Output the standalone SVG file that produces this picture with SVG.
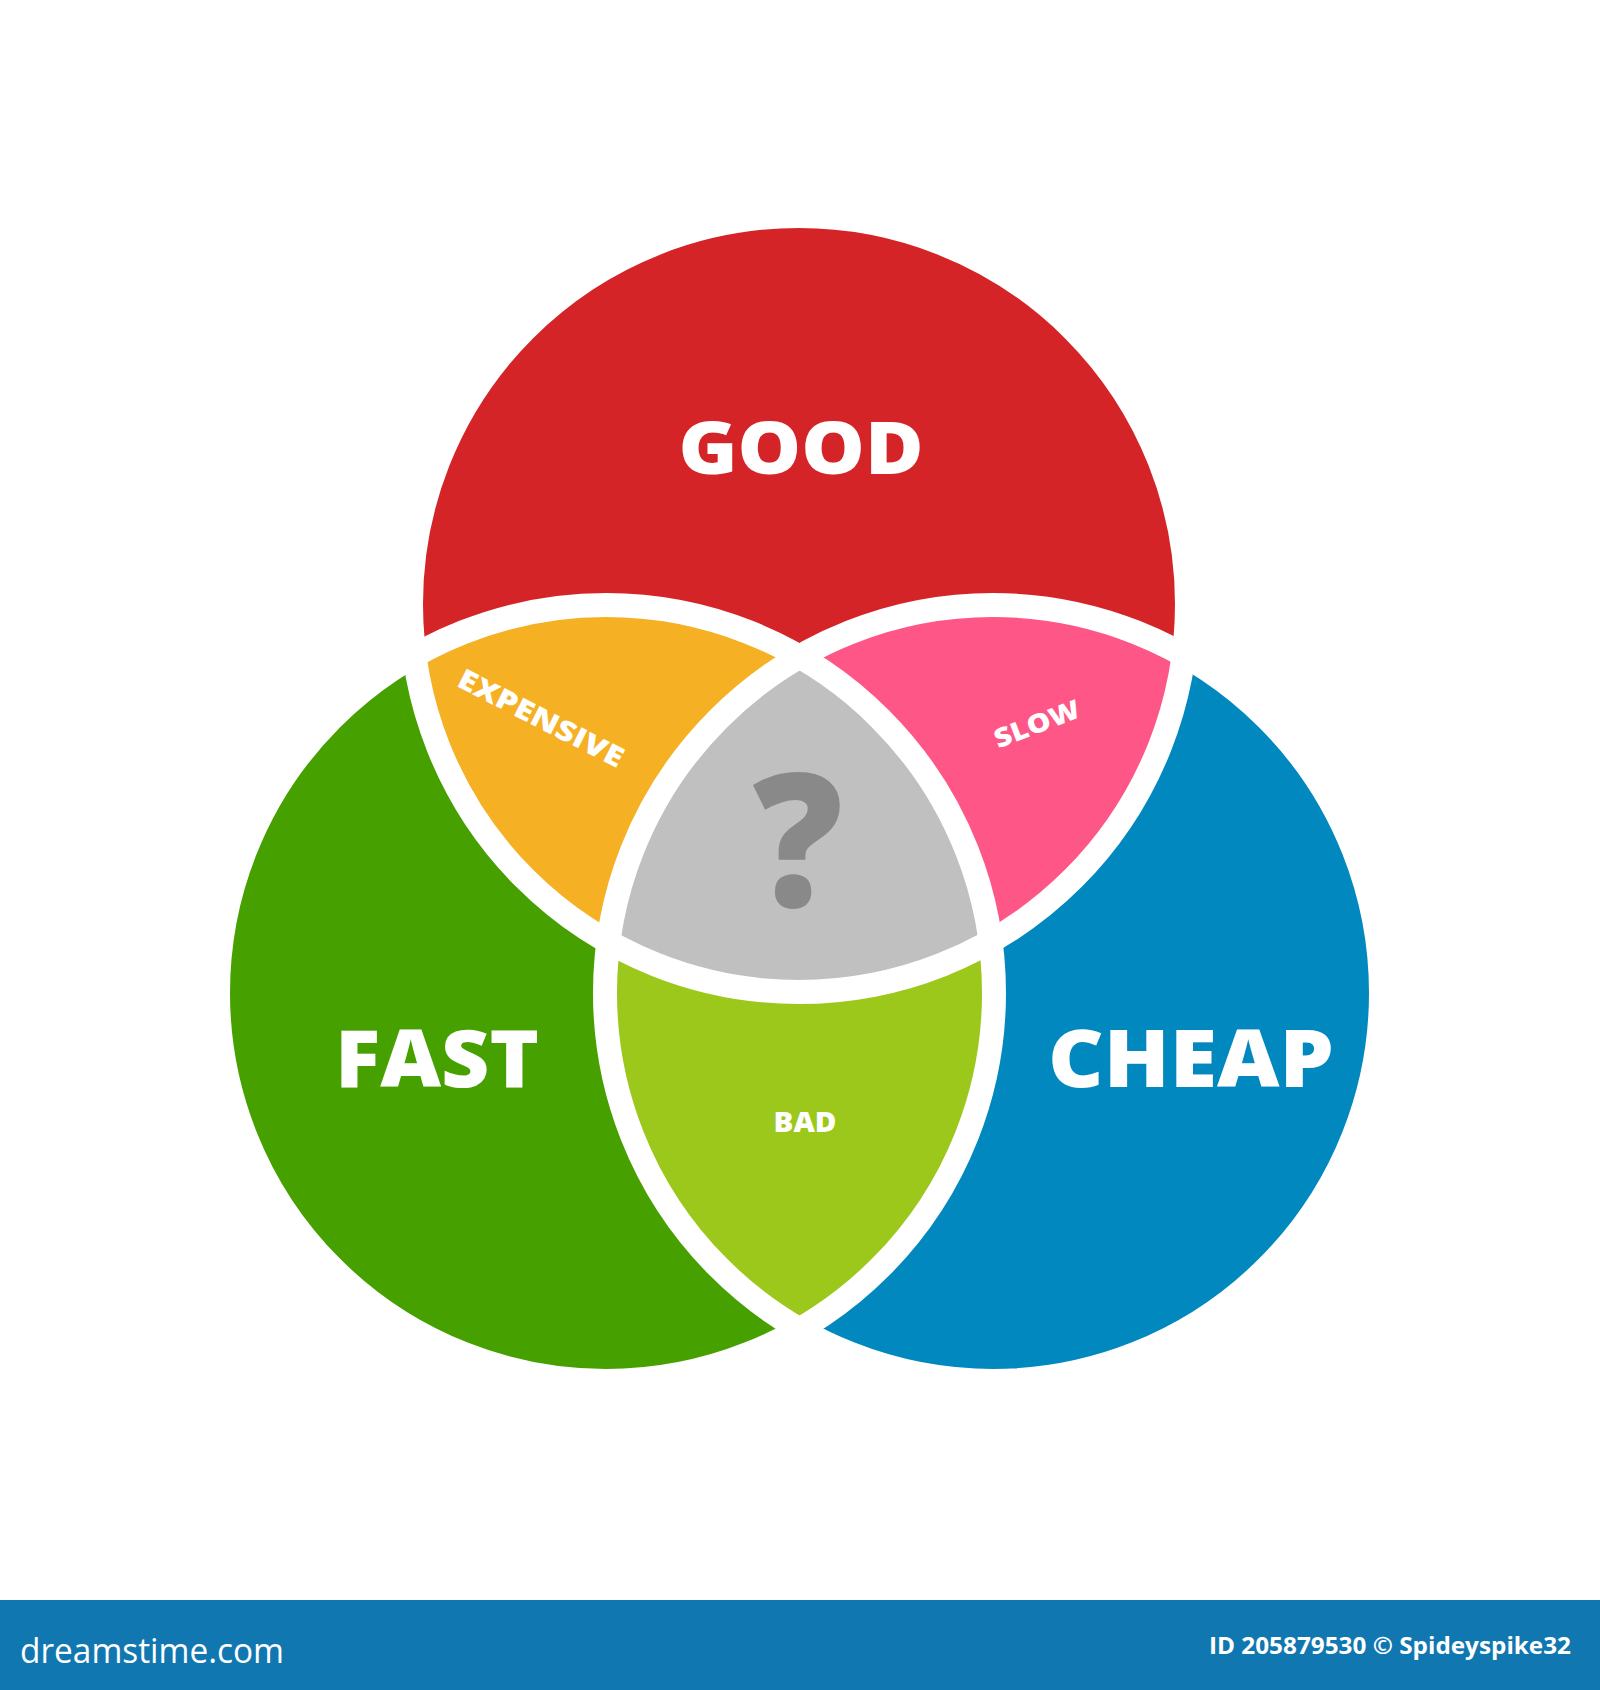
<svg xmlns="http://www.w3.org/2000/svg" xmlns:xlink="http://www.w3.org/1999/xlink" width="1600" height="1690" viewBox="0 0 1600 1690">
  <style>
    .lbl { font-family: "Open Sans", "Lato", "DejaVu Sans", sans-serif; font-weight: 800; fill: #ffffff; text-anchor: middle; }
    .outline { fill: none; stroke: #ffffff; stroke-width: 24; }
    .foot { font-family: "Open Sans", "Liberation Sans", sans-serif; fill: #ffffff; }
  </style>
  <defs>
    <circle id="cR" cx="799" cy="604" r="388"/>
    <circle id="cG" cx="606" cy="993" r="388"/>
    <circle id="cB" cx="993" cy="993" r="388"/>
    <clipPath id="clipR"><use xlink:href="#cR"/></clipPath>
    <clipPath id="clipG"><use xlink:href="#cG"/></clipPath>
    <clipPath id="clipB"><use xlink:href="#cB"/></clipPath>
  </defs>
  <rect width="1600" height="1690" fill="#ffffff"/>

  <g id="good">
    <use xlink:href="#cR" fill="#D52427"/>
  </g>
  <g id="fast">
    <use xlink:href="#cG" fill="#46A000"/>
  </g>
  <g id="cheap">
    <use xlink:href="#cB" fill="#0088BF"/>
  </g>
  <g id="expensive">
    <use xlink:href="#cG" fill="#F6B024" clip-path="url(#clipR)"/>
  </g>
  <g id="slow">
    <use xlink:href="#cB" fill="#FF5688" clip-path="url(#clipR)"/>
  </g>
  <g id="bad">
    <use xlink:href="#cB" fill="#9BC81B" clip-path="url(#clipG)"/>
  </g>
  <g id="center" clip-path="url(#clipG)">
    <use xlink:href="#cB" fill="#C0C0C0" clip-path="url(#clipR)"/>
  </g>

  <g id="outlines">
    <use xlink:href="#cR" class="outline"/>
    <use xlink:href="#cG" class="outline"/>
    <use xlink:href="#cB" class="outline"/>
  </g>

  <g id="labels">
    <text class="lbl" x="801" y="474" font-size="72" textLength="245" lengthAdjust="spacingAndGlyphs">GOOD</text>
    <text class="lbl" x="437" y="1087" font-size="80" textLength="204" lengthAdjust="spacingAndGlyphs">FAST</text>
    <text class="lbl" x="1191" y="1087" font-size="80" textLength="286" lengthAdjust="spacingAndGlyphs">CHEAP</text>
    <text class="lbl" x="805" y="1132" font-size="29" textLength="63" lengthAdjust="spacingAndGlyphs">BAD</text>
    <text class="lbl" transform="translate(541,718) rotate(27)" x="0" y="10" font-size="28" textLength="182" lengthAdjust="spacingAndGlyphs">EXPENSIVE</text>
    <text class="lbl" transform="translate(1037,724) rotate(-21)" x="0" y="9" font-size="26" textLength="90" lengthAdjust="spacingAndGlyphs">SLOW</text>
    <text class="lbl" x="798" y="907" font-size="186" style="fill:#898989" textLength="90" lengthAdjust="spacingAndGlyphs">?</text>
  </g>

  <g id="footer">
    <rect x="0" y="1600" width="1600" height="90" fill="#1177B0"/>
    <text class="foot" x="20" y="1663" font-size="34" textLength="264" lengthAdjust="spacingAndGlyphs">dreamstime.com</text>
    <text class="foot" x="1571" y="1654" font-size="23" font-weight="700" text-anchor="end" textLength="362" lengthAdjust="spacingAndGlyphs">ID 205879530 © Spideyspike32</text>
  </g>
</svg>
